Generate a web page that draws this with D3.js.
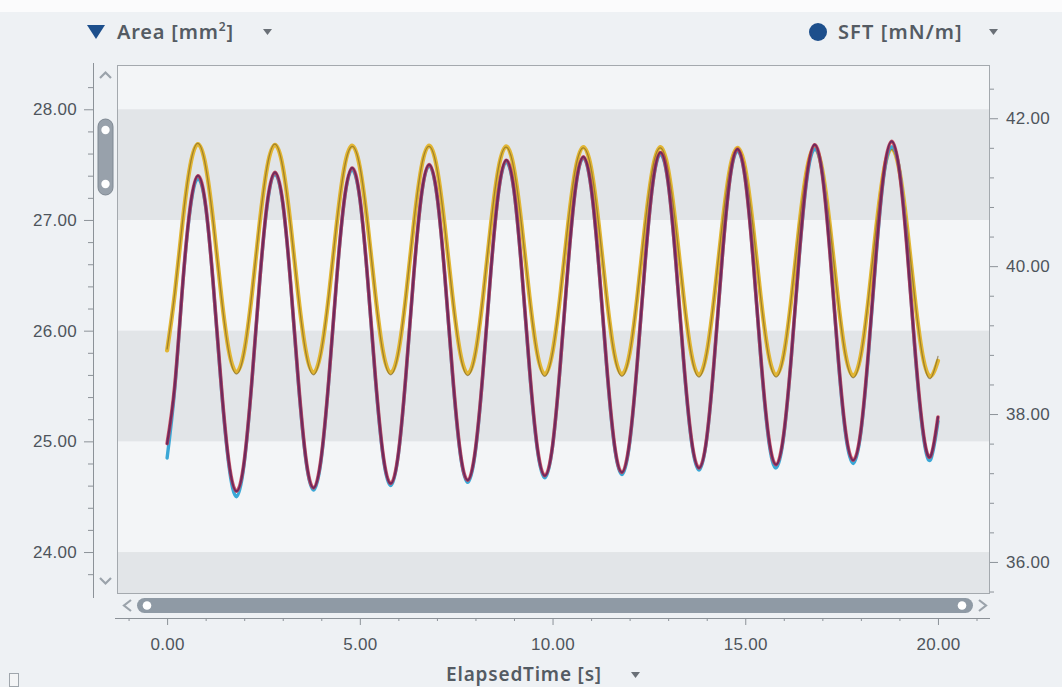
<!DOCTYPE html>
<html>
<head>
<meta charset="utf-8">
<script src="https://cdn.jsdelivr.net/npm/d3@7.9.0/dist/d3.min.js"></script>
<style>
  html, body { margin: 0; padding: 0; background: #eef1f4; }
  svg { display: block; font-family: "Noto Sans", "Open Sans", sans-serif; }
  .tick text { fill: #4e555c; font-size: 17px; letter-spacing: 0.3px; }
  .domain, .tick line { stroke: #8c9298; }
</style>
</head>
<body>
<svg id="chart" width="1062" height="687"></svg>
<script>
// time samples every 0.2 s, 0 .. 20
const time = d3.range(0, 101).map(i => +(i * 0.2).toFixed(1));

// Area [mm²] (left axis), fitted curve
const areaFit = [
  24.98, 25.51, 26.40, 27.12, 27.40, 27.13, 26.41, 25.53, 24.82, 24.55,
  24.82, 25.55, 26.44, 27.16, 27.43, 27.16, 26.45, 25.57, 24.85, 24.58,
  24.86, 25.58, 26.47, 27.19, 27.47, 27.20, 26.48, 25.60, 24.89, 24.62,
  24.89, 25.62, 26.51, 27.23, 27.50, 27.23, 26.52, 25.64, 24.92, 24.65,
  24.93, 25.65, 26.54, 27.26, 27.54, 27.27, 26.55, 25.67, 24.96, 24.69,
  24.96, 25.69, 26.58, 27.30, 27.57, 27.30, 26.59, 25.71, 24.99, 24.72,
  25.00, 25.72, 26.61, 27.33, 27.61, 27.34, 26.62, 25.74, 25.03, 24.76,
  25.03, 25.76, 26.65, 27.37, 27.64, 27.37, 26.66, 25.78, 25.06, 24.79,
  25.07, 25.79, 26.68, 27.40, 27.68, 27.41, 26.69, 25.81, 25.10, 24.83,
  25.10, 25.83, 26.72, 27.44, 27.71, 27.44, 26.73, 25.85, 25.13, 24.86,
  25.22
];

// Area [mm²], measured
const areaRaw = [
  24.85, 25.48, 26.39, 27.10, 27.37, 27.12, 26.40, 25.51, 24.79, 24.50,
  24.80, 25.54, 26.43, 27.14, 27.41, 27.15, 26.44, 25.55, 24.83, 24.56,
  24.84, 25.57, 26.46, 27.18, 27.45, 27.19, 26.47, 25.58, 24.87, 24.60,
  24.88, 25.61, 26.50, 27.22, 27.49, 27.22, 26.51, 25.62, 24.90, 24.63,
  24.91, 25.64, 26.53, 27.25, 27.52, 27.26, 26.54, 25.65, 24.94, 24.67,
  24.95, 25.68, 26.57, 27.29, 27.56, 27.29, 26.58, 25.69, 24.97, 24.70,
  24.98, 25.71, 26.60, 27.32, 27.59, 27.33, 26.61, 25.72, 25.01, 24.74,
  25.02, 25.75, 26.64, 27.36, 27.62, 27.37, 26.66, 25.76, 25.03, 24.76,
  25.05, 25.78, 26.66, 27.37, 27.64, 27.42, 26.70, 25.79, 25.07, 24.80,
  25.08, 25.80, 26.69, 27.41, 27.66, 27.45, 26.75, 25.83, 25.10, 24.83,
  25.18
];

// SFT [mN/m] (right axis), fitted curve
const sftFit = [
  38.86, 39.63, 40.59, 41.36, 41.65, 41.36, 40.59, 39.63, 38.86, 38.57,
  38.85, 39.62, 40.58, 41.35, 41.64, 41.35, 40.58, 39.62, 38.85, 38.56,
  38.86, 39.62, 40.57, 41.34, 41.63, 41.34, 40.58, 39.63, 38.85, 38.56,
  38.84, 39.61, 40.57, 41.34, 41.63, 41.33, 40.56, 39.61, 38.84, 38.55,
  38.83, 39.60, 40.56, 41.33, 41.62, 41.32, 40.55, 39.60, 38.83, 38.54,
  38.84, 39.60, 40.55, 41.32, 41.61, 41.33, 40.56, 39.60, 38.83, 38.54,
  38.82, 39.59, 40.55, 41.32, 41.61, 41.31, 40.54, 39.59, 38.82, 38.53,
  38.83, 39.60, 40.54, 41.31, 41.60, 41.32, 40.55, 39.59, 38.82, 38.53,
  38.81, 39.58, 40.54, 41.31, 41.60, 41.30, 40.53, 39.58, 38.81, 38.52,
  38.80, 39.57, 40.53, 41.30, 41.59, 41.29, 40.52, 39.57, 38.80, 38.51,
  38.72
];

// SFT [mN/m], measured
const sftRaw = [
  38.88, 39.64, 40.60, 41.37, 41.66, 41.35, 40.58, 39.62, 38.84, 38.54,
  38.84, 39.63, 40.59, 41.36, 41.65, 41.34, 40.57, 39.61, 38.83, 38.53,
  38.85, 39.63, 40.58, 41.33, 41.62, 41.35, 40.59, 39.62, 38.83, 38.53,
  38.83, 39.62, 40.58, 41.35, 41.62, 41.32, 40.55, 39.60, 38.82, 38.52,
  38.82, 39.61, 40.57, 41.34, 41.61, 41.31, 40.54, 39.59, 38.81, 38.51,
  38.83, 39.61, 40.56, 41.33, 41.60, 41.32, 40.55, 39.59, 38.81, 38.51,
  38.81, 39.60, 40.56, 41.33, 41.60, 41.30, 40.53, 39.58, 38.80, 38.50,
  38.82, 39.61, 40.55, 41.32, 41.59, 41.31, 40.54, 39.58, 38.80, 38.50,
  38.80, 39.59, 40.55, 41.32, 41.59, 41.29, 40.52, 39.57, 38.79, 38.49,
  38.79, 39.58, 40.54, 41.31, 41.58, 41.28, 40.51, 39.56, 38.78, 38.48,
  38.78
];

const xTicks = [0, 5, 10, 15, 20];
const leftTicks = [24, 25, 26, 27, 28];
const rightTicks = [36, 38, 40, 42];

const svg = d3.select("#chart");
const plot = { left: 117, top: 65, right: 990, bottom: 593 };

const x = d3.scaleLinear().domain([-1.30, 21.35]).range([plot.left, plot.right]);
const yL = d3.scaleLinear().domain([23.63, 28.40]).range([plot.bottom, plot.top]);
const yR = d3.scaleLinear().domain([35.58, 42.72]).range([plot.bottom, plot.top]);

// white strip at the very top
svg.append("rect").attr("x", 0).attr("y", 0).attr("width", 1062).attr("height", 12).attr("fill", "#fbfbfc");

// plot background bands, one per unit of the left axis
svg.append("rect")
  .attr("x", plot.left).attr("y", plot.top)
  .attr("width", plot.right - plot.left).attr("height", plot.bottom - plot.top)
  .attr("fill", "#f3f5f7");

const bands = d3.range(Math.floor(yL.domain()[0]), Math.ceil(yL.domain()[1]));
svg.selectAll(".band")
  .data(bands.filter(b => b % 2 !== 0))
  .join("rect")
  .attr("class", "band")
  .attr("x", plot.left)
  .attr("width", plot.right - plot.left)
  .attr("y", b => Math.max(plot.top, yL(b + 1)))
  .attr("height", b => Math.min(plot.bottom, yL(b)) - Math.max(plot.top, yL(b + 1)))
  .attr("fill", "#e2e5e8");

svg.append("rect")
  .attr("x", plot.left + 0.5).attr("y", plot.top + 0.5)
  .attr("width", plot.right - plot.left - 1).attr("height", plot.bottom - plot.top)
  .attr("fill", "none").attr("stroke", "#a4a9ae");

// curves
svg.append("clipPath").attr("id", "clip")
  .append("rect")
  .attr("x", plot.left).attr("y", plot.top)
  .attr("width", plot.right - plot.left).attr("height", plot.bottom - plot.top);

const g = svg.append("g").attr("clip-path", "url(#clip)");

function lineFor(scale) {
  return d3.line()
    .x((d, i) => x(time[i]))
    .y(d => scale(d))
    .curve(d3.curveNatural);
}

const lines = [
  { values: sftFit,  scale: yR, color: "#e2b634", width: 4.2, opacity: 1 },
  { values: sftRaw,  scale: yR, color: "#6a5520", width: 1.3, opacity: 0.55 },
  { values: areaRaw, scale: yL, color: "#3aa7d6", width: 3.4, opacity: 1 },
  { values: areaFit, scale: yL, color: "#c8384e", width: 3.6, opacity: 0.85 },
  { values: areaFit, scale: yL, color: "#70295d", width: 2.2, opacity: 1 }
];

lines.forEach(l => {
  g.append("path")
    .datum(l.values)
    .attr("d", lineFor(l.scale))
    .attr("fill", "none")
    .attr("stroke", l.color)
    .attr("stroke-width", l.width)
    .attr("stroke-opacity", l.opacity)
    .attr("stroke-linejoin", "round")
    .attr("stroke-linecap", "round");
});

// left axis
const leftAxis = svg.append("g").attr("transform", "translate(93,0)");
leftAxis.call(d3.axisLeft(yL).tickValues(leftTicks).tickFormat(d3.format(".2f")).tickSize(9).tickPadding(7));
leftAxis.select(".domain").attr("d", `M0.5,${plot.top - 2}V${plot.bottom + 5}`);
svg.append("g").attr("transform", "translate(93,0)")
  .call(d3.axisLeft(yL).tickValues(d3.range(23.8, 28.4, 0.2).filter(v => Math.abs(v - Math.round(v)) > 0.01))
    .tickFormat("").tickSize(5))
  .select(".domain").remove();

// right axis
const rightAxis = svg.append("g").attr("transform", `translate(${plot.right},0)`);
rightAxis.call(d3.axisRight(yR).tickValues(rightTicks).tickFormat(d3.format(".2f")).tickSize(8).tickPadding(8));
rightAxis.select(".domain").remove();
svg.append("g").attr("transform", `translate(${plot.right},0)`)
  .call(d3.axisRight(yR).tickValues(d3.range(35.6, 42.7, 0.4).filter(v => Math.abs(v / 2 - Math.round(v / 2)) > 0.01))
    .tickFormat("").tickSize(4))
  .select(".domain").remove();

// bottom axis (below the horizontal scroll bar)
const xAxisY = 618;
const bottomAxis = svg.append("g").attr("transform", `translate(0,${xAxisY})`);
bottomAxis.call(d3.axisBottom(x).tickValues(xTicks).tickFormat(d3.format(".2f")).tickSize(7).tickPadding(13));
bottomAxis.select(".domain").attr("d", `M${plot.left - 2},0.5H${plot.right}`);
svg.append("g").attr("transform", `translate(0,${xAxisY})`)
  .call(d3.axisBottom(x).tickValues(d3.range(-1, 22, 1).filter(v => v % 5 !== 0)).tickFormat("").tickSize(3))
  .select(".domain").remove();

// vertical scroll bar (left)
const vs = svg.append("g");
vs.append("path").attr("d", "M100,78 L105.5,72.5 L111,78").attr("fill", "none").attr("stroke", "#9ba3ab").attr("stroke-width", 2.2);
vs.append("path").attr("d", "M100,578 L105.5,583.5 L111,578").attr("fill", "none").attr("stroke", "#9ba3ab").attr("stroke-width", 2.2);
vs.append("rect").attr("x", 98).attr("y", 119).attr("width", 15).attr("height", 76).attr("rx", 7.5)
  .attr("fill", "#98a1ab").attr("stroke", "#7f8892").attr("stroke-width", 1);
[130, 184].forEach(cy => vs.append("circle").attr("cx", 105.5).attr("cy", cy).attr("r", 4.2).attr("fill", "#ffffff"));

// horizontal scroll bar (bottom)
const hs = svg.append("g");
hs.append("rect").attr("x", 137).attr("y", 598).attr("width", 836).attr("height", 15).attr("rx", 7.5).attr("fill", "#8f9aa5");
hs.append("path").attr("d", "M131,600 L124,605.5 L131,611").attr("fill", "none").attr("stroke", "#9ba3ab").attr("stroke-width", 2.2);
hs.append("path").attr("d", "M979,600 L986,605.5 L979,611").attr("fill", "none").attr("stroke", "#9ba3ab").attr("stroke-width", 2.2);
[147, 962].forEach(cx => hs.append("circle").attr("cx", cx).attr("cy", 605.5).attr("r", 4.3).attr("fill", "#ffffff"));

// legend / axis titles
const titleColor = "#545b63";
svg.append("path").attr("d", "M87,25 L105,25 L96,39 Z").attr("fill", "#1d4f8c");
svg.append("text").attr("x", 117).attr("y", 39)
  .attr("font-size", 20).attr("font-weight", 600).attr("letter-spacing", 0.8).attr("fill", titleColor)
  .html('Area [mm<tspan dy="-8" font-size="12">2</tspan><tspan dy="8">]</tspan>');
svg.append("path").attr("d", "M263,29 L272,29 L267.5,35 Z").attr("fill", "#6a7077");

svg.append("circle").attr("cx", 818).attr("cy", 32).attr("r", 9).attr("fill", "#1d4f8c");
svg.append("text").attr("x", 838).attr("y", 39)
  .attr("font-size", 20).attr("font-weight", 600).attr("letter-spacing", 1.1).attr("fill", titleColor)
  .text("SFT [mN/m]");
svg.append("path").attr("d", "M989,29 L998,29 L993.5,35 Z").attr("fill", "#6a7077");

svg.append("text").attr("x", 524).attr("y", 681).attr("text-anchor", "middle")
  .attr("font-size", 19).attr("font-weight", 600).attr("letter-spacing", 0.8).attr("fill", titleColor)
  .text("ElapsedTime [s]");
svg.append("path").attr("d", "M631,672 L640,672 L635.5,678 Z").attr("fill", "#6a7077");

// small square at bottom left
svg.append("rect").attr("x", 9.5).attr("y", 673.5).attr("width", 9).attr("height", 13)
  .attr("fill", "#f4f5f6").attr("stroke", "#a0a6ac");
</script>
</body>
</html>
